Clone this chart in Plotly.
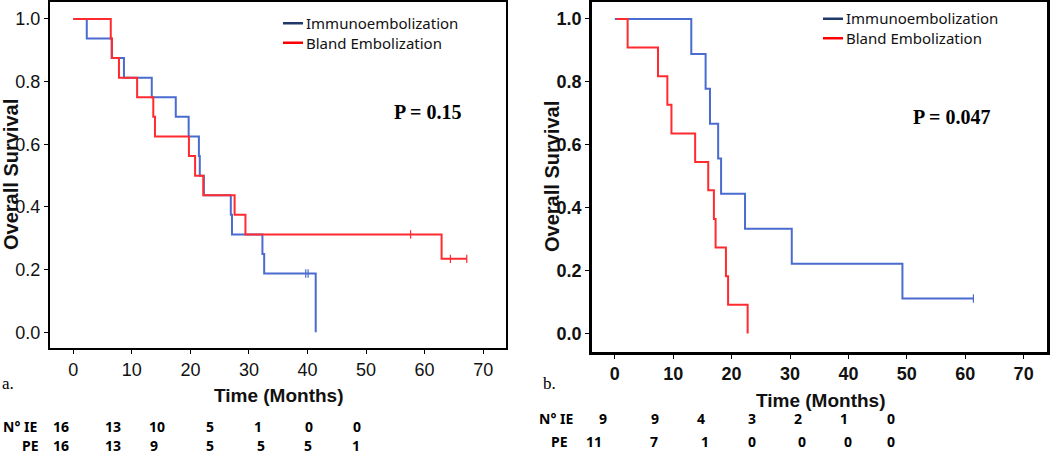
import plotly.graph_objects as go

# ---------------- data ----------------
# Panel a
a_ie_time = [0, 2.3, 6.55, 8.65, 13.4, 17.5, 19.7, 21.45, 21.6, 22.3, 26.9, 27.1, 32.3, 32.6, 41.4]
a_ie_surv = [1.0, 0.9375, 0.875, 0.8125, 0.75, 0.6875, 0.625, 0.5625, 0.5, 0.4375, 0.375, 0.3125, 0.25, 0.1875, 0.0]
a_ie_cens_time = [39.7, 40.1]
a_ie_cens_surv = [0.1875, 0.1875]

a_pe_time = [0, 6.4, 6.6, 7.8, 10.9, 13.66, 13.95, 19.75, 20.8, 22.2, 27.55, 29.4, 62.9, 67.2]
a_pe_surv = [1.0, 0.9375, 0.875, 0.8125, 0.75, 0.6875, 0.625, 0.5625, 0.5, 0.4375, 0.375, 0.3125, 0.2344, 0.2344]
a_pe_cens_time = [57.6, 64.4, 67.2]
a_pe_cens_surv = [0.3125, 0.2344, 0.2344]

# Panel b
b_ie_time = [0, 13.1, 15.55, 16.3, 17.7, 18.2, 22.3, 30.3, 49.25, 61.4]
b_ie_surv = [1.0, 0.889, 0.778, 0.667, 0.556, 0.444, 0.333, 0.222, 0.111, 0.111]
b_ie_cens_time = [61.4]
b_ie_cens_surv = [0.111]

b_pe_time = [0.3, 2.2, 7.4, 9.0, 9.7, 13.76, 16.0, 16.97, 17.26, 19.03, 19.4, 22.75]
b_pe_surv = [1.0, 0.909, 0.818, 0.727, 0.636, 0.545, 0.455, 0.364, 0.273, 0.182, 0.091, 0.0]

series_names = ["Immunoembolization", "Bland Embolization"]
x_ticks = [0, 10, 20, 30, 40, 50, 60, 70]
y_ticks = [0.0, 0.2, 0.4, 0.6, 0.8, 1.0]

risk_labels = ["N° IE", "PE"]
a_risk_ie = ["16", "13", "10", "5", "1", "0", "0"]
a_risk_pe = ["16", "13", "9", "5", "5", "5", "1"]
b_risk_ie = ["9", "9", "4", "3", "2", "1", "0"]
b_risk_pe = ["11", "7", "1", "0", "0", "0", "0"]

p_values = ["P = 0.15", "P = 0.047"]
panel_labels = ["a.", "b."]

# ---------------- layout constants (pixels) ----------------
W, H = 1050, 454
BLUE = "#4a6bcf"
RED = "#ff2b2f"
LEG_BLUE = "#1f3867"
LEG_RED = "#ff0000"


def fx(px):
    return px / W


def fy(py):
    return 1 - py / H


# panel frames in pixels: (left, right, top, bottom)
A_BOX = (50, 506, 2, 348)
B_BOX = (592, 1047, 2, 352)

a_risk_x_ie = [61, 112.5, 157, 210, 258, 309, 357]
a_risk_x_pe = [61, 112.5, 154, 210, 261, 308, 356]
b_risk_x_ie = [603, 655, 701, 752, 798, 844, 891]
b_risk_x_pe = [594, 654, 705, 752, 802, 848, 891]

# legend placement: (line start x, line end x, text x, block centre y)
LEG_FONT_SIZE = 15
LEG_LINE_H = LEG_FONT_SIZE * 1.3
A_LEG = (283, 303, 305, 33)
B_LEG = (823, 843, 845, 28.5)

fig = go.Figure()


def add_curve(t, s, color, xa, ya, name):
    fig.add_trace(go.Scatter(x=t, y=s, mode="lines", name=name,
                             line=dict(color=color, width=2, shape="hv"),
                             xaxis=xa, yaxis=ya, showlegend=False, hoverinfo="skip"))


def add_cens(t, s, color, xa, ya):
    fig.add_trace(go.Scatter(x=t, y=s, mode="markers",
                             marker=dict(symbol="line-ns", size=6, line=dict(color=color, width=1.2)),
                             xaxis=xa, yaxis=ya, showlegend=False, hoverinfo="skip"))


# panel a
add_curve(a_ie_time, a_ie_surv, BLUE, "x", "y", series_names[0])
add_cens(a_ie_cens_time, a_ie_cens_surv, BLUE, "x", "y")
add_curve(a_pe_time, a_pe_surv, RED, "x", "y", series_names[1])
add_cens(a_pe_cens_time, a_pe_cens_surv, RED, "x", "y")
# panel b
add_curve(b_ie_time, b_ie_surv, BLUE, "x2", "y2", series_names[0])
add_cens(b_ie_cens_time, b_ie_cens_surv, BLUE, "x2", "y2")
add_curve(b_pe_time, b_pe_surv, RED, "x2", "y2", series_names[1])


def axis_common(bold):
    return dict(showline=True, mirror=True, linecolor="black",
                ticks="outside", ticklen=4, tickcolor="black", tickwidth=1,
                showgrid=False, zeroline=False, fixedrange=True,
                tickfont=dict(family="Liberation Sans", size=18, color="#111111",
                              weight="bold" if bold else "normal"))


xa1 = axis_common(False)
xa1.update(domain=[fx(A_BOX[0]), fx(A_BOX[1])], range=[-3.98, 73.9], tickvals=x_ticks, anchor="y", linewidth=2)
ya1 = axis_common(False)
ya1.update(domain=[fy(A_BOX[3]), fy(A_BOX[2])], range=[-0.05, 1.054], tickvals=y_ticks, tickformat=".1f",
           anchor="x", linewidth=2)
xa2 = axis_common(True)
xa2.update(domain=[fx(B_BOX[0]), fx(B_BOX[1])], range=[-3.9, 74.0], tickvals=x_ticks, anchor="y2", linewidth=2.5)
ya2 = axis_common(True)
ya2.update(domain=[fy(B_BOX[3]), fy(B_BOX[2])], range=[-0.059, 1.054], tickvals=y_ticks, tickformat=".1f",
           anchor="x2", linewidth=2.5)

ann = []
xt_font = dict(family="Liberation Sans", size=19, color="#111111", weight="bold")
yt_font = dict(family="Liberation Sans", size=20, color="#111111", weight="bold")
# axis titles
ann.append(dict(text="Time (Months)", x=fx(278), y=fy(395), font=xt_font))
ann.append(dict(text="Time (Months)", x=fx(820), y=fy(400), font=xt_font))
ann.append(dict(text="Overall Survival", x=fx(11), y=fy(175), textangle=-90, font=yt_font))
ann.append(dict(text="Overall Survival", x=fx(552), y=fy(177), textangle=-90, font=yt_font))
# p values
pfont = dict(family="Liberation Serif", size=20, color="black", weight="bold")
ann.append(dict(text=p_values[0], x=fx(428), y=fy(112), font=pfont))
ann.append(dict(text=p_values[1], x=fx(952), y=fy(117), font=pfont))
# panel labels
lfont = dict(family="Liberation Serif", size=17, color="black")
ann.append(dict(text=panel_labels[0], x=fx(0), y=fy(383), xanchor="left", font=lfont))
ann.append(dict(text=panel_labels[1], x=fx(541), y=fy(383), xanchor="left", font=lfont))
# legends (two-line text block + key lines)
legfont = dict(family="Noto Sans", size=LEG_FONT_SIZE, color="#111111")
shapes = []
for leg in (A_LEG, B_LEG):
    x0, x1, xt, yc = leg
    ann.append(dict(text="<br>".join(series_names), x=fx(xt), y=fy(yc), xanchor="left",
                    align="left", font=legfont, borderpad=0))
    for col, yy in zip([LEG_BLUE, LEG_RED], [yc - LEG_LINE_H / 2, yc + LEG_LINE_H / 2]):
        shapes.append(dict(type="line", xref="paper", yref="paper", x0=fx(x0), x1=fx(x1),
                           y0=fy(yy), y1=fy(yy), line=dict(color=col, width=2.5)))
# risk tables
rfont = dict(family="Noto Sans", size=14, color="black", weight="bold")
ann.append(dict(text=risk_labels[0], x=fx(1), y=fy(426), xanchor="left", font=rfont))
ann.append(dict(text=risk_labels[1], x=fx(20), y=fy(445), xanchor="left", font=rfont))
ann.append(dict(text=risk_labels[0], x=fx(537), y=fy(418), xanchor="left", font=rfont))
ann.append(dict(text=risk_labels[1], x=fx(549), y=fy(441), xanchor="left", font=rfont))
for vals, xs, py in [(a_risk_ie, a_risk_x_ie, 426), (a_risk_pe, a_risk_x_pe, 445),
                     (b_risk_ie, b_risk_x_ie, 418), (b_risk_pe, b_risk_x_pe, 441)]:
    for v, px in zip(vals, xs):
        ann.append(dict(text=v, x=fx(px), y=fy(py), font=rfont))

for a in ann:
    a.setdefault("xanchor", "center")
    a.update(xref="paper", yref="paper", yanchor="middle", showarrow=False)

fig.update_layout(
    width=W, height=H, autosize=False,
    margin=dict(l=0, r=0, t=0, b=0),
    paper_bgcolor="white", plot_bgcolor="white",
    xaxis=xa1, yaxis=ya1, xaxis2=xa2, yaxis2=ya2,
    annotations=ann, shapes=shapes, showlegend=False,
)

fig.write_html("out.html", config={"displayModeBar": False},
               post_script="document.body.style.margin='0px';")
